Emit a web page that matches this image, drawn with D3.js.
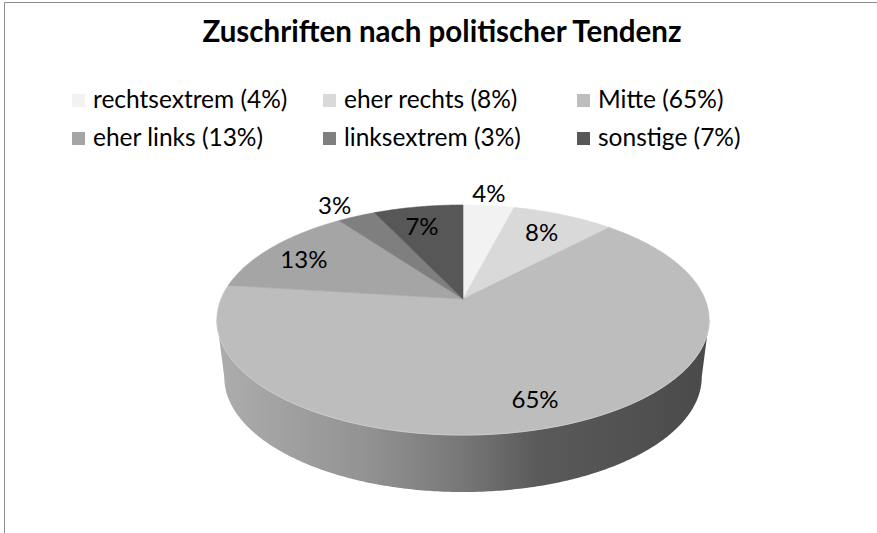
<!DOCTYPE html>
<html>
<head>
<meta charset="utf-8">
<script src="https://cdn.jsdelivr.net/npm/d3@7"></script>
<style>
  body { margin: 0; background: #fff; }
  svg { display: block; }
</style>
</head>
<body>
<svg id="chart"></svg>
<script>
// chart data
const categories = ["rechtsextrem", "eher rechts", "Mitte", "eher links", "linksextrem", "sonstige"];
const values = [4, 8, 65, 13, 3, 7];
const colors = ["#f2f2f2", "#d9d9d9", "#bdbdbd", "#a5a5a5", "#7f7f7f", "#575757"];
const title = "Zuschriften nach politischer Tendenz";

const width = 877, height = 533;
const font = "Lato, 'Open Sans', sans-serif";

const svg = d3.select("#chart").attr("width", width).attr("height", height);

// frame lines
svg.append("line").attr("x1", 4.5).attr("y1", 2.5).attr("x2", width).attr("y2", 2.5)
    .attr("stroke", "#8c8c8c").attr("stroke-width", 1);
svg.append("line").attr("x1", 4.5).attr("y1", 2.5).attr("x2", 4.5).attr("y2", height)
    .attr("stroke", "#8c8c8c").attr("stroke-width", 1);

// title
svg.append("text")
    .attr("x", 442).attr("y", 42)
    .attr("text-anchor", "middle")
    .attr("font-family", font).attr("font-weight", "bold").attr("font-size", 29.5)
    .attr("fill", "#000")
    .text(title);

// legend
const legendCols = [72, 323, 577];
const legendRows = [108, 146];
const legend = svg.append("g");
categories.forEach((c, i) => {
    const col = i % 3, row = Math.floor(i / 3);
    const g = legend.append("g")
        .attr("transform", `translate(${legendCols[col]},${legendRows[row]})`);
    g.append("rect").attr("x", 0).attr("y", -14).attr("width", 13).attr("height", 13)
        .attr("fill", colors[i]);
    g.append("text").attr("x", 21).attr("y", 0)
        .attr("font-family", font).attr("font-size", 24.5)
        .attr("fill", "#000")
        .text(`${c} (${values[i]}%)`);
});

// 3D pie with simple perspective
const cx = 463, cy = 299;      // apex of the slices
const a = 242, b = 111.2;      // horizontal / vertical radius
const k = 0.1826;              // perspective strength
const depth = 57, shrink = 0.03;

// theta is clockwise from 12 o'clock, r radius factor, z 0=top 1=bottom
function proj(theta, r = 1, z = 0) {
    const x = r * Math.sin(theta), y = -r * Math.cos(theta);
    const w = 1 - k * y;
    return [cx + a * x * (1 - shrink * z) / w, cy + b * y / w + depth * z];
}

const arcs = d3.pie().sort(null).value(d => d)(values);

function arcPoints(t0, t1, z) {
    const n = Math.max(2, Math.ceil(Math.abs(t1 - t0) / 0.01));
    return d3.range(n + 1).map(j => proj(t0 + (t1 - t0) * j / n, 1, z));
}

// side gradient
const defs = svg.append("defs");
const grad = defs.append("linearGradient").attr("id", "side")
    .attr("gradientUnits", "userSpaceOnUse")
    .attr("x1", cx - a * 1.02).attr("x2", cx + a * 1.02).attr("y1", 0).attr("y2", 0);
[[0, "#adadad"], [0.3, "#939393"], [0.5, "#777777"], [0.65, "#5a5a5a"], [1, "#4a4a4a"]]
    .forEach(([o, c]) => grad.append("stop").attr("offset", o).attr("stop-color", c));

// silhouette angles
const thR = Math.acos(-k), thL = 2 * Math.PI - thR;
const sidePts = arcPoints(thR, thL, 0).concat(arcPoints(thL, thR, 1));
svg.append("path")
    .attr("d", d3.line()(sidePts) + "Z")
    .attr("fill", "url(#side)");

// top face slices
const pie = svg.append("g");
arcs.forEach((d, i) => {
    const pts = [[cx, cy]].concat(arcPoints(d.startAngle, d.endAngle, 0));
    pie.append("path")
        .attr("d", d3.line()(pts) + "Z")
        .attr("fill", colors[i])
        .attr("stroke", colors[i]).attr("stroke-width", 0.6)
        .attr("stroke-linejoin", "round");
});

// light rim between top and side
svg.append("path")
    .attr("d", d3.line()(arcPoints(thR, thL, 0)))
    .attr("fill", "none").attr("stroke", "#cccccc").attr("stroke-width", 0.8);

// data labels: small slices outside, others inside
arcs.forEach((d, i) => {
    const mid = (d.startAngle + d.endAngle) / 2;
    const r = values[i] < 5 ? 1.2 : 0.8;
    const [x, y] = proj(mid, r, 0);
    svg.append("text")
        .attr("x", x - 4).attr("y", y + 2)
        .attr("text-anchor", "middle").attr("dominant-baseline", "central")
        .attr("font-family", font).attr("font-size", 24)
        .attr("fill", "#000")
        .text(`${values[i]}%`);
});
</script>
</body>
</html>
